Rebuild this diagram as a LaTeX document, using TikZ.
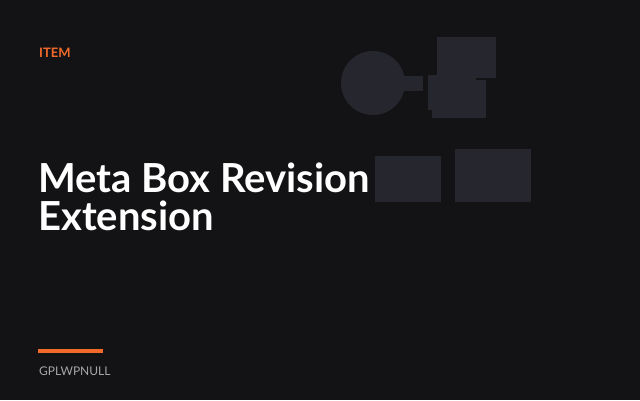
\documentclass[tikz,border=0pt]{standalone}
\usepackage{fontspec}
\setmainfont{Lato}
\definecolor{bgdark}{HTML}{131316}
\definecolor{shape}{HTML}{26262E}
\definecolor{accent}{HTML}{F26A2A}
\begin{document}
\begin{tikzpicture}[x=1pt, y=-1pt]

\tikzset{block/.style = {fill=shape, draw=none}}

\fill[bgdark] (0,0) rectangle (640,400);
\useasboundingbox (0,0) rectangle (640,400);

% shapes
\fill[block] (373,83) circle (32);
\fill[block] (400,76) rectangle (423,91);
\fill[block] (437,37) rectangle (496,78);
\fill[block] (428,75) rectangle (476,110);
\fill[block] (432,80) rectangle (486,118);
\fill[block] (375,156) rectangle (441,202);
\fill[block] (455,149) rectangle (531,202);

% text
\node[anchor=base west, inner sep=0, text=accent, font=\fontsize{13}{13}\selectfont\bfseries] (item) at (39,57) {ITEM};
\node[anchor=base west, inner sep=0, text=white, align=left, font=\fontsize{40}{39}\selectfont\bfseries] (title) at (38,192) {Meta Box Revision};
\node[anchor=base west, inner sep=0, text=white, font=\fontsize{40}{39}\selectfont\bfseries] (title2) at (38,230) {Extension};
\fill[accent] (38,349) rectangle (103,353);
\node[anchor=base west, inner sep=0, text=gray!70, font=\fontsize{12}{12}\selectfont] (brand) at (39,375) {GPLWPNULL};

\end{tikzpicture}
\end{document}
